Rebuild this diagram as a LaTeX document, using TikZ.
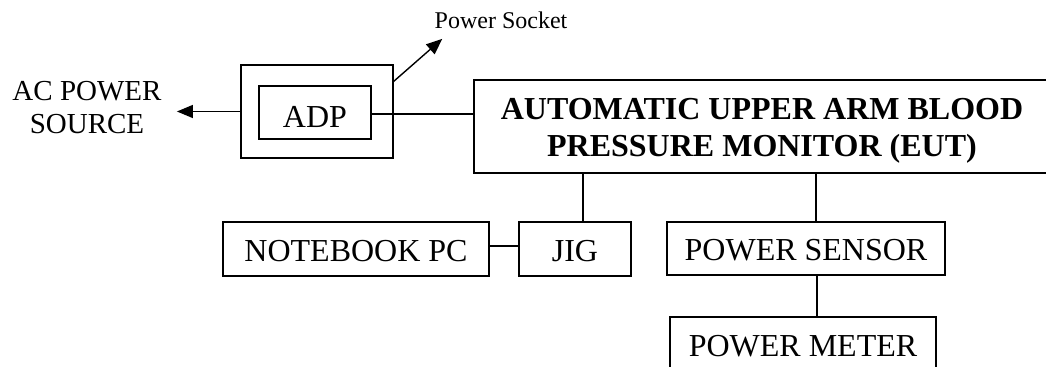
\documentclass[tikz,border=0pt]{standalone}
\usepackage{fontspec}
\setmainfont{Liberation Serif}
\usetikzlibrary{arrows.meta}

\begin{document}
\begin{tikzpicture}[x=0.5pt,y=-0.5pt,
  box/.style={draw,line width=0.6pt,inner sep=0pt,align=center,font=\fontsize{16}{18.5}\selectfont},
  onebox/.style={box,text height=12.5pt,text depth=0pt},
  lbl/.style={inner sep=0pt,align=center},
  wire/.style={line width=0.7pt},
  arr/.style={line width=0.7pt,-{Triangle[length=8pt,width=6.5pt]}}]
\useasboundingbox (0,0) rectangle (1046,367);
\clip (0,0) rectangle (1046,367);
% socket and adapter
\node[box,minimum width=76pt,minimum height=46.5pt] (socket) at (317,111.5) {};
\node[onebox,text height=15pt,minimum width=56pt,minimum height=26.5pt] (adp) at (315,112.5) {ADP};
\node[lbl,font=\fontsize{14.5}{16.5}\selectfont] (acsrc) at (87,108) {AC POWER\\SOURCE};
\node[lbl,font=\fontsize{12}{14}\selectfont] (socktxt) at (501,20) {Power Socket};
\coordinate (plug) at (393,82);
% EUT
\node[box,font=\fontsize{16}{18.5}\selectfont\bfseries,minimum width=288pt,minimum height=46.5pt] (eut) at (762,126.5)
  {\rule{0pt}{15pt}AUTOMATIC UPPER ARM BLOOD\\PRESSURE MONITOR (EUT)};
% lower row
\node[onebox,minimum width=133pt,minimum height=27pt] (nbpc) at (356,249) {NOTEBOOK PC};
\node[onebox,minimum width=56pt,minimum height=27pt] (jig) at (575,249) {JIG};
\node[onebox,minimum width=139pt,minimum height=26.5pt] (sensor) at (806,248.5) {POWER SENSOR};
\node[onebox,minimum width=133pt,minimum height=27pt] (meter) at (803,344) {POWER METER};
% connections
\draw[arr] (socket.west) -- ([xshift=7.5pt]acsrc.east |- socket.west);
\draw[arr] (plug) -- ([shift={(8,10)}]socktxt.south west);
\draw[wire] ([yshift=-0.75pt]adp.east) -- ([yshift=-0.75pt]adp.east -| eut.west);
\draw[wire] ([xshift=4pt]jig.north) -- ([xshift=4pt]jig.north |- eut.south);
\draw[wire] ([yshift=1.5pt]nbpc.east) -- ([yshift=1.5pt]jig.west);
\draw[wire] ([xshift=5pt]sensor.north) -- ([xshift=5pt]sensor.north |- eut.south);
\draw[wire] ([xshift=5.5pt]sensor.south) -- ([xshift=5.5pt]sensor.south |- meter.north);
\end{tikzpicture}
\end{document}
